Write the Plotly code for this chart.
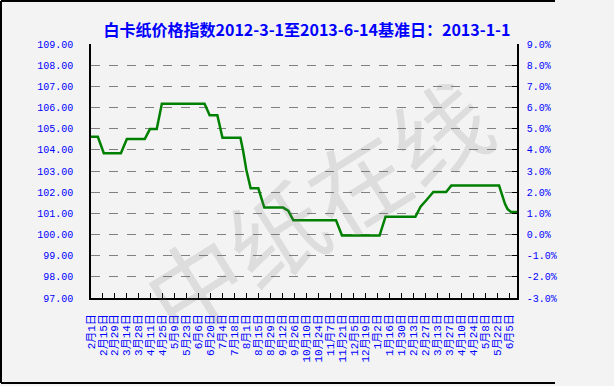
import plotly.graph_objects as go

# ---- data ----
dates = ["2012-02-01", "2012-02-09", "2012-02-16", "2012-03-07", "2012-03-14", "2012-04-04",
         "2012-04-10", "2012-04-18", "2012-04-24", "2012-06-13", "2012-06-19", "2012-06-28",
         "2012-07-04", "2012-07-25", "2012-07-28", "2012-08-01", "2012-08-06", "2012-08-15",
         "2012-08-22", "2012-09-13", "2012-09-19", "2012-09-25", "2012-11-14", "2012-11-21",
         "2013-01-04", "2013-01-11", "2013-02-15", "2013-02-21", "2013-02-28", "2013-03-08",
         "2013-03-23", "2013-03-29", "2013-05-24", "2013-05-27", "2013-05-31", "2013-06-03",
         "2013-06-07", "2013-06-14"]
index_values = [104.62, 104.62, 103.84, 103.84, 104.51, 104.51,
                104.98, 104.98, 106.18, 106.18, 105.63, 105.63,
                104.57, 104.57, 103.99, 103.05, 102.18, 102.18,
                101.27, 101.27, 101.13, 100.67, 100.67, 99.95,
                99.95, 100.84, 100.84, 101.31, 101.63, 102.01,
                102.01, 102.31, 102.31, 101.95, 101.44, 101.20,
                101.06, 101.06]

tick_dates = ["2012-02-01", "2012-02-15", "2012-02-29", "2012-03-14", "2012-03-28", "2012-04-11",
              "2012-04-25", "2012-05-09", "2012-05-23", "2012-06-06", "2012-06-20", "2012-07-04",
              "2012-07-18", "2012-08-01", "2012-08-15", "2012-08-29", "2012-09-12", "2012-09-26",
              "2012-10-10", "2012-10-24", "2012-11-07", "2012-11-21", "2012-12-05", "2012-12-19",
              "2013-01-02", "2013-01-16", "2013-01-30", "2013-02-13", "2013-02-27", "2013-03-13",
              "2013-03-27", "2013-04-10", "2013-04-24", "2013-05-08", "2013-05-22", "2013-06-05"]
tick_labels = ["2月1日", "2月15日", "2月29日", "3月14日", "3月28日", "4月11日",
               "4月25日", "5月9日", "5月23日", "6月6日", "6月20日", "7月4日",
               "7月18日", "8月1日", "8月15日", "8月29日", "9月12日", "9月26日",
               "10月10日", "10月24日", "11月7日", "11月21日", "12月5日", "12月19日",
               "1月2日", "1月16日", "1月30日", "2月13日", "2月27日", "3月13日",
               "3月27日", "4月10日", "4月24日", "5月8日", "5月22日", "6月5日"]

left_ticks = [97, 98, 99, 100, 101, 102, 103, 104, 105, 106, 107, 108, 109]
left_labels = ["97.00", "98.00", "99.00", "100.00", "101.00", "102.00", "103.00",
               "104.00", "105.00", "106.00", "107.00", "108.00", "109.00"]
right_ticks = [-3, -2, -1, 0, 1, 2, 3, 4, 5, 6, 7, 8, 9]
right_labels = ["-3.0%", "-2.0%", "-1.0%", "0.0%", "1.0%", "2.0%", "3.0%",
                "4.0%", "5.0%", "6.0%", "7.0%", "8.0%", "9.0%"]

title_text = "白卡纸价格指数2012-3-1至2013-6-14基准日：2013-1-1"
watermark = "中纸在线"

BLUE = "#0000FF"
tick_font = dict(family="Liberation Mono, Noto Sans CJK SC", size=10, color=BLUE)

fig = go.Figure()
fig.add_trace(go.Scatter(x=dates, y=index_values, mode="lines",
                         line=dict(color="#008000", width=2.5), showlegend=False,
                         hoverinfo="x+y"))
# invisible trace to activate the right axis
fig.add_trace(go.Scatter(x=[dates[0]], y=[index_values[0] - 100], yaxis="y2",
                         mode="markers", marker=dict(opacity=0), showlegend=False,
                         hoverinfo="skip"))

fig.update_layout(
    width=614, height=386,
    margin=dict(l=91, r=97, t=44, b=88),
    paper_bgcolor="#F3F3F3",
    plot_bgcolor="rgba(0,0,0,0)",
    title=dict(text=title_text, x=0.5, xanchor="center", y=1 - 30 / 386, yanchor="middle",
               font=dict(family="Noto Sans CJK SC", size=16, color=BLUE, weight="bold")),
    xaxis=dict(type="date", range=["2012-02-01", "2013-06-14"],
               tickmode="array", tickvals=tick_dates, ticktext=tick_labels,
               tickangle=-90, ticks="inside", ticklen=5, tickcolor="black",
               showline=True, linecolor="black", linewidth=1.5,
               showgrid=False, zeroline=False, automargin=False,
               tickfont=dict(family="Liberation Mono, Noto Sans CJK SC", size=11, color=BLUE),
               ticklabelstandoff=10),
    yaxis=dict(range=[97, 109], tickmode="array", tickvals=left_ticks, ticktext=left_labels,
               showline=True, linecolor="black", linewidth=1.5, ticks="",
               showgrid=True, gridcolor="#808080", gridwidth=1, griddash="dash",
               zeroline=False, automargin=False, tickfont=tick_font, ticklabelstandoff=14),
    yaxis2=dict(range=[-3, 9], overlaying="y", side="right", tickmode="array",
                tickvals=right_ticks, ticktext=right_labels,
                showline=True, linecolor="black", linewidth=1.5,
                ticks="inside", ticklen=5, tickcolor="black", automargin=False,
                showgrid=False, zeroline=False, tickfont=tick_font, ticklabelstandoff=6),
)

fig.add_annotation(text=watermark, xref="paper", yref="paper",
                   x=(315 - 91) / 426, y=(298 - 205) / 254,
                   showarrow=False, textangle=-32,
                   font=dict(family="Noto Sans CJK SC", size=96, color="rgba(110,110,110,0.17)"))

# outer frame (left, top, bottom)
fig.add_shape(type="line", xref="paper", yref="paper", x0=-90 / 426, x1=-90 / 426,
              y0=-85 / 254, y1=1 + 43 / 254, line=dict(color="black", width=2))
fig.add_shape(type="line", xref="paper", yref="paper", x0=-90 / 426, x1=(555 - 91) / 426,
              y0=1 + 43 / 254, y1=1 + 43 / 254, line=dict(color="black", width=2))
fig.add_shape(type="line", xref="paper", yref="paper", x0=-90 / 426, x1=(555 - 91) / 426,
              y0=-85 / 254, y1=-85 / 254, line=dict(color="black", width=2))

fig.write_html("out.html", config={"displayModeBar": False},
               post_script="document.body.style.margin='0';")
